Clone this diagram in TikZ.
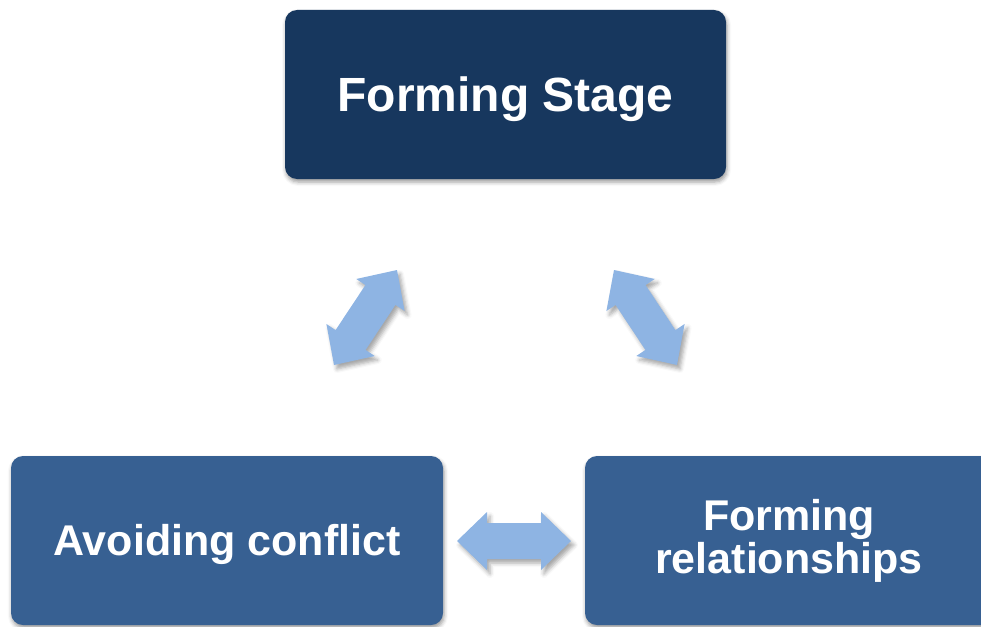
\documentclass[tikz,border=0pt]{standalone}
\usepackage{fontspec}
\setmainfont{Liberation Sans}
\usetikzlibrary{calc,shadows.blur}
\definecolor{darkbox}{HTML}{17375E}
\definecolor{midbox}{HTML}{376092}
\definecolor{arrowblue}{HTML}{8EB4E3}
\tikzset{
  boxshadow/.style={blur shadow={shadow xshift=1pt,shadow yshift=-3pt,shadow blur radius=4pt,shadow opacity=40}},
  stagebox/.style={rectangle,rounded corners=12pt,draw=none,text=white,align=center,
    font=\bfseries,minimum height=169pt,inner sep=0pt,boxshadow},
  blockarrow/.style={fill=arrowblue,draw=none,blur shadow={shadow xshift=3pt,shadow yshift=-4pt,shadow blur radius=4pt,shadow opacity=35}}
}
\newcommand\myblockarrow[2]{%
  \fill[blockarrow] (#2)
    -- ($(#2)!30pt!(#1)!29pt!90:(#1)$)
    -- ($(#2)!30pt!(#1)!18pt!90:(#1)$)
    -- ($(#1)!30pt!(#2)!18pt!-90:(#2)$)
    -- ($(#1)!30pt!(#2)!29pt!-90:(#2)$)
    -- (#1)
    -- ($(#1)!30pt!(#2)!29pt!90:(#2)$)
    -- ($(#1)!30pt!(#2)!18pt!90:(#2)$)
    -- ($(#2)!30pt!(#1)!18pt!-90:(#1)$)
    -- ($(#2)!30pt!(#1)!29pt!-90:(#1)$)
    -- cycle;}
\begin{document}
\begin{tikzpicture}[x=1pt,y=-1pt]
\useasboundingbox (0,0) rectangle (981,626);
\node[stagebox,fill=darkbox,minimum width=441pt,text height=34.4pt,text depth=0pt,
  font=\bfseries\fontsize{48}{50}\selectfont] (top) at (505.5,94.5) {Forming Stage};
\node[stagebox,fill=midbox,minimum width=432pt,text height=30.8pt,text depth=0pt,
  font=\bfseries\fontsize{43}{45}\selectfont] (left) at (227,540.5) {Avoiding conflict};
\node[stagebox,fill=midbox,minimum width=408pt,
  font=\bfseries\fontsize{43}{43}\selectfont] (right) at (789,540.5) {Forming\\relationships};
\coordinate (la) at (334,365);
\coordinate (lb) at (397,270);
\coordinate (ra) at (614,270);
\coordinate (rb) at (677,365);
\coordinate (ha) at (457,541);
\coordinate (hb) at (571,541);
\myblockarrow{la}{lb}
\myblockarrow{ra}{rb}
\myblockarrow{ha}{hb}
\end{tikzpicture}
\end{document}
